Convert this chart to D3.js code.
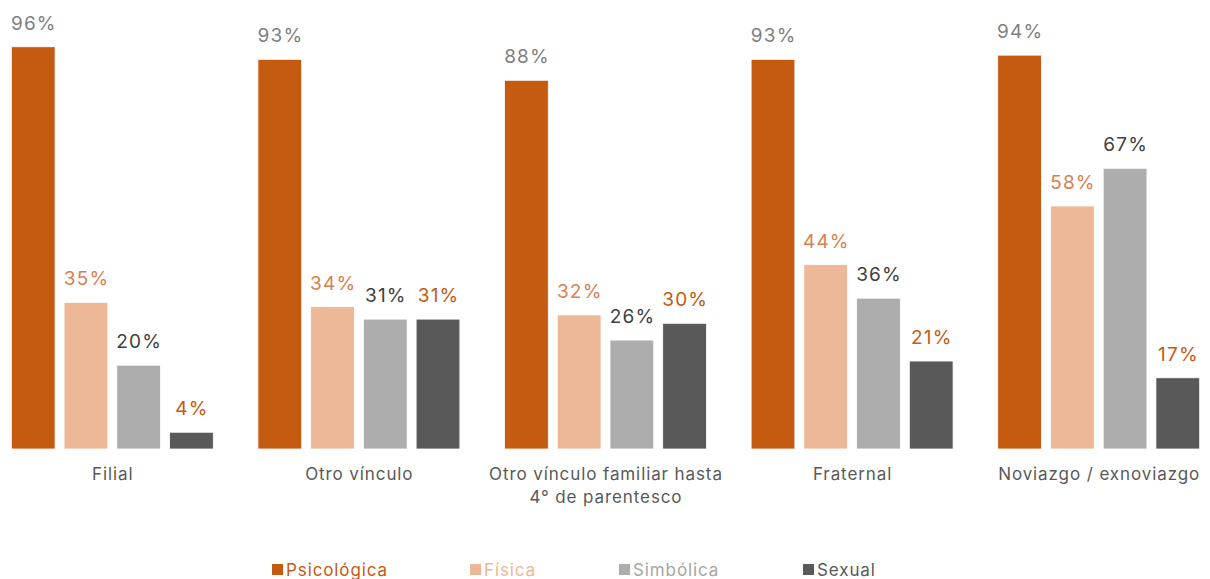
<!DOCTYPE html>
<html>
<head>
<meta charset="utf-8">
<script src="https://cdn.jsdelivr.net/npm/d3@7"></script>
<style>
body { margin: 0; background: #fff; }
text { font-family: Inter, "Noto Sans", sans-serif; }
</style>
</head>
<body>
<script>
var categories = [['Filial'], ['Otro vínculo'], ['Otro vínculo familiar hasta', '4° de parentesco'], ['Fraternal'], ['Noviazgo / exnoviazgo']];
var series = ['Psicológica', 'Física', 'Simbólica', 'Sexual'];
var psicologica = [96, 93, 88, 93, 94];
var fisica = [35, 34, 32, 44, 58];
var simbolica = [20, 31, 26, 36, 67];
var sexual = [4, 31, 30, 21, 17];

var barColors = ['#C55A11', '#EDB897', '#ADADAD', '#595959'];
var labelColors = ['#7F7F7F', '#D9804F', '#404040', '#C55A11'];
var legendColors = ['#C55A11', '#EDB897', '#A6A6A6', '#595959'];
var values = [psicologica, fisica, simbolica, sexual];

var svg = d3.select('body').append('svg')
    .attr('width', 1210)
    .attr('height', 579);

var x0 = d3.scaleBand()
    .domain(d3.range(categories.length))
    .range([-11, 1222])
    .paddingInner(0.181)
    .paddingOuter(0.0905);

var x1 = d3.scaleBand()
    .domain(d3.range(series.length))
    .range([0, x0.bandwidth()])
    .paddingInner(0.17)
    .paddingOuter(0);

var y = d3.scaleLinear()
    .domain([0, 100])
    .range([449, 30]);

var groups = svg.selectAll('g.grp')
    .data(categories)
    .enter().append('g')
    .attr('class', 'grp')
    .attr('transform', function(d, i) { return 'translate(' + x0(i) + ',0)'; });

groups.each(function(cat, gi) {
    var g = d3.select(this);
    series.forEach(function(s, si) {
        var v = values[si][gi];
        g.append('rect')
            .attr('x', x1(si))
            .attr('y', y(v))
            .attr('width', x1.bandwidth())
            .attr('height', y(0) - y(v))
            .attr('fill', barColors[si])
            .attr('stroke', '#ffffff')
            .attr('stroke-width', 0.8);
        g.append('text')
            .attr('x', x1(si) + x1.bandwidth() / 2 + 0.6)
            .attr('y', y(v) - 17)
            .attr('text-anchor', 'middle')
            .attr('font-size', 19)
            .attr('letter-spacing', '1.2px')
            .attr('fill', labelColors[si])
            .text(v + '%');
    });
    cat.forEach(function(line, li) {
        g.append('text')
            .attr('x', x0.bandwidth() / 2 + 0.45)
            .attr('y', 480 + li * 23)
            .attr('text-anchor', 'middle')
            .attr('font-size', 17)
            .attr('letter-spacing', '0.9px')
            .attr('fill', '#595959')
            .text(line);
    });
});

// legend
var legendX = [272, 470, 619, 803];
var legend = svg.selectAll('g.leg')
    .data(series)
    .enter().append('g')
    .attr('class', 'leg')
    .attr('transform', function(d, i) { return 'translate(' + legendX[i] + ',0)'; });

legend.append('rect')
    .attr('x', 0)
    .attr('y', 564)
    .attr('width', 11)
    .attr('height', 11)
    .attr('fill', function(d, i) { return barColors[i]; });

legend.append('text')
    .attr('x', 14)
    .attr('y', 576)
    .attr('font-size', 17)
    .attr('letter-spacing', '0.9px')
    .attr('fill', function(d, i) { return legendColors[i]; })
    .text(function(d) { return d; });
</script>
</body>
</html>
